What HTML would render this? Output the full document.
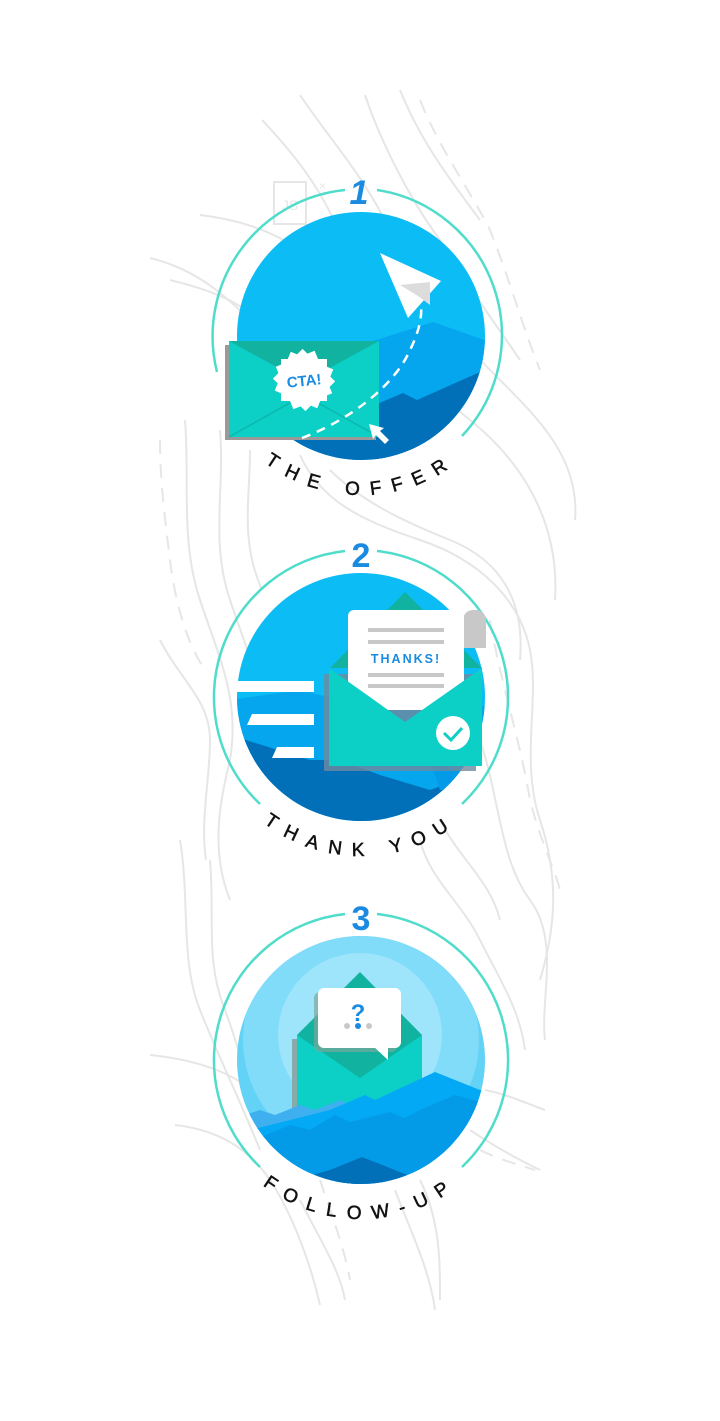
<!DOCTYPE html>
<html><head><meta charset="utf-8"><style>
html,body{margin:0;padding:0;background:#fff;}
svg{display:block;}
text{font-family:"Liberation Sans",sans-serif;}
</style></head><body>
<svg width="720" height="1421" viewBox="0 0 720 1421" xmlns="http://www.w3.org/2000/svg">
<defs>
<clipPath id="c1"><circle cx="361" cy="336" r="124"/></clipPath>
<clipPath id="c2"><circle cx="361" cy="697" r="124"/></clipPath>
<clipPath id="c3"><circle cx="361" cy="1060" r="124"/></clipPath>
<path id="t1" d="M202 336 A159 159 0 0 0 520 336"/>
<path id="t2" d="M202 697 A159 159 0 0 0 520 697"/>
<path id="t3" d="M202 1060 A159 159 0 0 0 520 1060"/>
</defs>

<!-- background contour lines -->
<g fill="none" stroke="#e6e6e6" stroke-width="2">
<path d="M262 120 C300 160 330 200 350 260 C370 330 420 380 470 420 C520 460 560 520 555 600"/>
<path d="M300 95 C330 140 360 170 390 230 C420 300 470 350 500 380 C540 420 580 460 575 520"/>
<path d="M365 95 C380 140 410 200 440 240 C470 290 500 330 520 360"/>
<path d="M400 90 C420 140 450 180 480 220"/>
<path d="M150 258 C200 270 230 300 260 330"/>
<path d="M170 280 C210 290 240 300 270 330"/>
<path d="M200 215 C240 220 270 230 300 250"/>
<path d="M185 420 C190 480 180 540 200 600 C220 660 240 700 230 760 C220 800 210 850 230 900"/>
<path d="M220 430 C225 490 210 540 230 600 C250 660 270 700 262 760"/>
<path d="M250 450 C250 500 240 540 262 590"/>
<path d="M300 455 C320 500 360 520 420 540 C480 560 520 600 530 650 C540 700 520 760 540 820 C560 880 555 930 540 980"/>
<path d="M330 470 C360 500 400 520 450 540 C500 560 525 600 520 660"/>
<path d="M480 740 C500 800 500 860 530 900 C560 940 540 1000 545 1040"/>
<path d="M180 840 C190 900 180 960 200 1010 C220 1060 240 1100 260 1150"/>
<path d="M210 860 C215 920 205 960 225 1010 C240 1050 245 1080 262 1110"/>
<path d="M420 840 C430 880 460 900 480 940 C500 980 520 1010 525 1050"/>
<path d="M440 820 C460 860 490 880 500 920"/>
<path d="M160 640 C180 680 210 700 210 740 C210 780 200 820 206 860"/>
<path d="M150 1055 C200 1060 240 1075 262 1100"/>
<path d="M175 1125 C220 1130 250 1150 270 1180 C290 1210 310 1260 320 1305"/>
<path d="M300 1200 C320 1240 340 1270 345 1300"/>
<path d="M395 1190 C410 1230 430 1270 435 1310"/>
<path d="M420 1180 C440 1220 440 1260 440 1300"/>
<path d="M470 1130 C500 1150 520 1160 540 1170"/>
<path d="M485 1090 C510 1095 530 1105 545 1110"/>
<path d="M160 440 C160 480 165 520 170 560 C175 600 185 640 205 670" stroke-dasharray="14 10"/>
<path d="M420 100 C440 150 470 190 490 230 C510 280 520 320 540 370" stroke-dasharray="14 10"/>
<path d="M490 620 C500 680 520 740 530 800 C540 840 555 870 560 890" stroke-dasharray="14 10"/>
<path d="M320 1180 C330 1210 345 1250 350 1280" stroke-dasharray="14 10"/>
<path d="M480 1150 C500 1160 520 1165 535 1170" stroke-dasharray="14 10"/>
</g>
<rect x="274" y="182" width="32" height="42" fill="none" stroke="#e6e6e6" stroke-width="2"/>
<text x="290" y="210" font-size="14" fill="#e6e6e6" text-anchor="middle">JS</text>
<text x="319" y="190" font-size="12" fill="#e6e6e6">×</text>

<!-- rings -->
<g fill="none" stroke="#50dccb" stroke-width="2.5">
<path d="M462 436 A147 147 0 0 0 377 190 M345 190 A147 147 0 0 0 217 372"/>
<path d="M462 804 A147 147 0 0 0 377 551 M345 551 A147 147 0 0 0 260 804"/>
<path d="M462 1167 A147 147 0 0 0 377 914 M345 914 A147 147 0 0 0 260 1167"/>
</g>
<g font-size="34" font-weight="bold" font-style="italic" fill="#1a8be0" text-anchor="middle">
<text x="359" y="204">1</text>
</g>
<g font-size="34" font-weight="bold" fill="#1a8be0" text-anchor="middle">
<text x="361" y="567">2</text>
<text x="361" y="930">3</text>
</g>

<!-- circle 1 -->
<g clip-path="url(#c1)">
<rect x="230" y="205" width="262" height="262" fill="#0bbcf5"/>
<polygon points="370,342 433,322 490,342 490,470 370,470" fill="#06a6ee"/>
<polygon points="375,405 403,393 417,400 480,372 490,372 490,470 375,470" fill="#0270b8"/>
<rect x="230" y="420" width="262" height="50" fill="#0270b8"/>
</g>
<polygon points="380,253 441,281 408,318" fill="#fff"/>
<polygon points="400,285 430,282 430,305 418,296" fill="#dcdcdc"/>
<rect x="225" y="345" width="151" height="95" fill="#9a9a9a"/>
<rect x="229" y="341" width="150" height="96" fill="#0ccfc6"/>
<polygon points="229,341 379,341 304,382" fill="#11b3a0"/>
<path d="M229 437 L304 395 L379 437" fill="none" stroke="#0bb8ac" stroke-width="1.5"/>
<path d="M302 438 C350 420 395 385 410 350 C420 330 422 315 421 305" fill="none" stroke="#fff" stroke-width="2.5" stroke-dasharray="9 7"/>
<g fill="#fff" transform="translate(304 380)">
<rect x="-23" y="-21" width="46" height="42"/>
<rect x="-23" y="-21" width="46" height="42" transform="rotate(22.5)"/>
<rect x="-23" y="-21" width="46" height="42" transform="rotate(45)"/>
<rect x="-23" y="-21" width="46" height="42" transform="rotate(67.5)"/>
</g>
<text x="304" y="386" font-size="15" font-weight="bold" fill="#1a8be0" text-anchor="middle" transform="rotate(-6 304 380)">CTA!</text>
<polygon points="369,424 384,428 380,431 389,440 385,444 376,435 373,439" fill="#fff"/>

<!-- circle 2 -->
<g clip-path="url(#c2)">
<rect x="230" y="565" width="262" height="262" fill="#0bbcf5"/>
<polygon points="230,700 300,690 360,705 420,690 500,710 500,830 230,830" fill="#06a6ee"/>
<polygon points="230,735 310,760 340,760 380,775 430,790 470,775 500,780 500,830 230,830" fill="#0270b8"/>
<polygon points="430,760 470,775 500,770 500,790 440,790" fill="#039be8"/>
</g>
<rect x="237" y="681" width="77" height="11" fill="#fff"/>
<polygon points="252,714 314,714 314,725 247,725" fill="#fff"/>
<polygon points="277,747 314,747 314,758 272,758" fill="#fff"/>
<polygon points="330,668 405,592 482,668" fill="#11b3a0"/>
<rect x="324" y="674" width="152" height="97" fill="#6f8a9e" opacity="0.8"/>
<rect x="463" y="610" width="23" height="38" rx="10" fill="#c8c8c8"/>
<rect x="463" y="628" width="23" height="20" fill="#c8c8c8"/>
<rect x="348" y="610" width="116" height="100" rx="6" fill="#fff"/>
<g fill="#c8c8c8">
<rect x="368" y="628" width="76" height="4"/>
<rect x="368" y="640" width="76" height="4"/>
<rect x="368" y="673" width="76" height="4"/>
<rect x="368" y="684" width="76" height="4"/>
</g>
<text x="406" y="663" font-size="12.5" font-weight="bold" fill="#1a8be0" text-anchor="middle" letter-spacing="2">THANKS!</text>
<polygon points="329,668 405,722 482,668 482,766 329,766" fill="#0ccfc6"/>
<circle cx="453" cy="733" r="17" fill="#fff"/>
<path d="M444 733 L451 740 L462 728" fill="none" stroke="#0ccfc6" stroke-width="3"/>

<!-- circle 3 -->
<g clip-path="url(#c3)">
<rect x="230" y="930" width="262" height="262" fill="#62d2f7"/>
<circle cx="361" cy="1040" r="118" fill="#80dcf9"/>
<circle cx="360" cy="1035" r="82" fill="#9ee4fb"/>
<polygon points="297,1035 360,972 422,1035" fill="#11b3a0"/>
<rect x="292" y="1039" width="8" height="75" fill="#8aa"/>
<rect x="297" y="1035" width="125" height="80" fill="#0ccfc6"/>
<polygon points="297,1035 360,1078 422,1035" fill="#11b3a0"/>
<polygon points="230,1120 260,1110 275,1115 300,1105 315,1110 340,1100 380,1120 400,1112 500,1112 500,1192 230,1192" fill="#3fb0ef"/>
<polygon points="230,1135 290,1120 330,1110 365,1095 375,1100 435,1072 480,1090 500,1090 500,1192 230,1192" fill="#03a9f5"/>
<polygon points="230,1150 290,1125 310,1130 335,1115 350,1122 390,1112 405,1118 420,1110 455,1095 480,1102 500,1100 500,1192 230,1192" fill="#039be8"/>
<polygon points="300,1192 312,1175 330,1170 362,1157 420,1180 430,1192" fill="#0270b8"/>
</g>
<rect x="314" y="992" width="83" height="60" rx="6" fill="#7a9" opacity="0.7"/>
<rect x="318" y="988" width="83" height="60" rx="6" fill="#fff"/>
<polygon points="373,1046 388,1046 388,1060" fill="#fff"/>
<text x="358" y="1021" font-size="24" font-weight="bold" fill="#1a8be0" text-anchor="middle">?</text>
<circle cx="347" cy="1026" r="3" fill="#c8c8c8"/>
<circle cx="358" cy="1026" r="3" fill="#1a8be0"/>
<circle cx="369" cy="1026" r="3" fill="#c8c8c8"/>

<!-- labels -->
<g font-size="19" fill="#111" stroke="#111" stroke-width="0.5" letter-spacing="11">
<text><textPath href="#t1" startOffset="50%" text-anchor="middle">THE OFFER</textPath></text>
<text><textPath href="#t2" startOffset="50%" text-anchor="middle">THANK YOU</textPath></text>
<text><textPath href="#t3" startOffset="50%" text-anchor="middle">FOLLOW-UP</textPath></text>
</g>
</svg>
</body></html>
